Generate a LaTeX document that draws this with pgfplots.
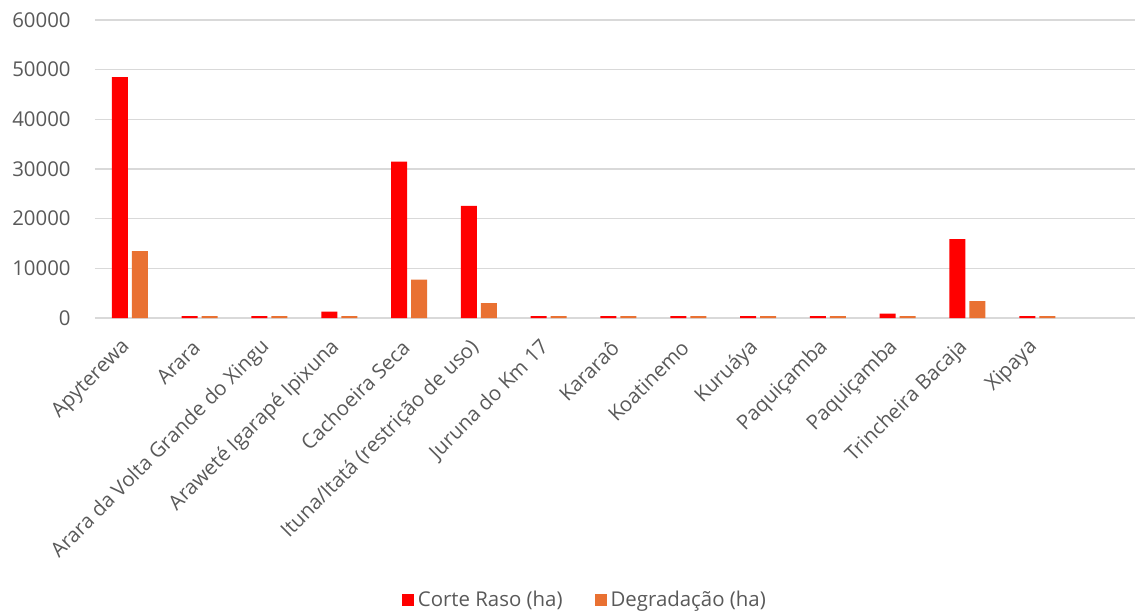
\documentclass[border=0pt]{standalone}
\usepackage{pgfplots}
\pgfplotsset{compat=1.18}
\usepackage{fontspec}
\setmainfont{Open Sans}
\definecolor{cRed}{HTML}{FF0000}
\definecolor{cOrange}{HTML}{E97132}
\definecolor{txtgray}{HTML}{595959}
\definecolor{gridgray}{HTML}{D9D9D9}
\begin{document}
\begin{tikzpicture}
\begin{axis}[
  at={(0,0)}, anchor=south west,
  scale only axis,
  width=520pt, height=149pt,
  ybar=2pt, bar width=8pt,
  xmin=-0.5, xmax=14.4,
  ymin=0, ymax=60000,
  ytick={0,10000,20000,30000,40000,50000,60000},
  scaled y ticks=false,
  /pgf/number format/1000 sep={},
  /pgf/number format/assume math mode=true,
  xtick={0,...,13},
  xticklabels={{Apyterewa},{Arara},{Arara da Volta Grande do Xingu},{Araweté Igarapé Ipixuna},{Cachoeira Seca},{Ituna/Itatá (restrição de uso)},{Juruna do Km 17},{Kararaô},{Koatinemo},{Kuruáya},{Paquiçamba},{Paquiçamba},{Trincheira Bacaja},{Xipaya}},
  axis line style={draw=none},
  major tick length=0pt,
  ymajorgrids,
  grid style={color=gridgray, line width=0.8pt},
  yticklabel style={font=\fontsize{10.2}{12}\selectfont, text=txtgray, inner sep=0pt, anchor=east, xshift=-12pt},
  xticklabel style={font=\fontsize{10.2}{12}\selectfont, text=txtgray, inner sep=0pt, xshift=-1.5pt, yshift=-13pt, rotate=45, anchor=east},
  legend columns=-1,
  legend style={draw=none, fill=none, at={(0.472,-0.946)}, anchor=center,
    font=\fontsize{10.2}{12}\selectfont, text=txtgray,
    /tikz/every even column/.append style={column sep=14pt},
    /tikz/every odd column/.append style={column sep=0pt}},
  legend image code/.code={\fill[#1] (0pt,-3pt) rectangle (6pt,3pt);},
]
\addplot[fill=cRed, draw=none] coordinates {
(0,48500) (1,400) (2,400) (3,1300) (4,31500) (5,22600) (6,400) (7,400) (8,400) (9,400) (10,400) (11,900) (12,15900) (13,400)};
\addlegendentry{Corte Raso (ha)}
\addplot[fill=cOrange, draw=none] coordinates {
(0,13450) (1,400) (2,400) (3,400) (4,7750) (5,3000) (6,400) (7,400) (8,400) (9,400) (10,400) (11,400) (12,3400) (13,400)};
\addlegendentry{Degradação (ha)}
\end{axis}
\pgfresetboundingbox
\path[use as bounding box] (-47.5pt,-147pt) rectangle (520.5pt,159pt);
\end{tikzpicture}
\end{document}
